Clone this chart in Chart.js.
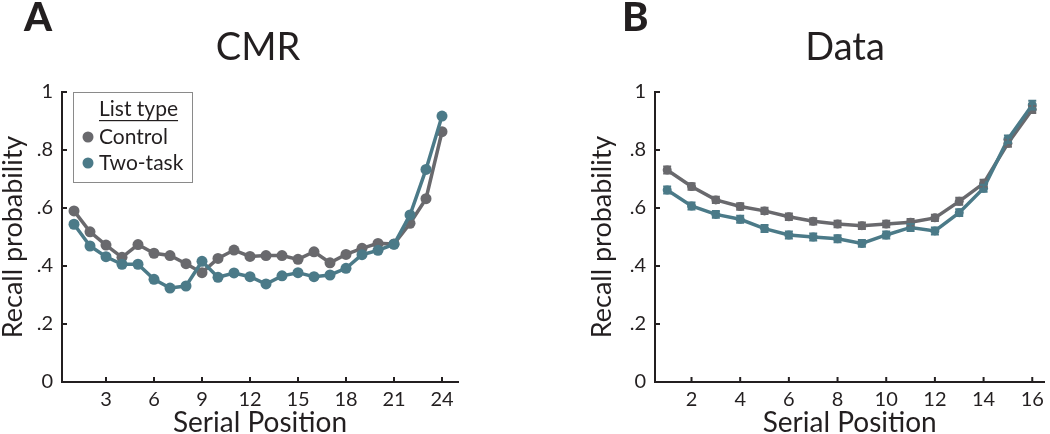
<!DOCTYPE html>
<html>
<head>
<meta charset="utf-8">
<script src="https://cdn.jsdelivr.net/npm/chart.js@4.4.1/dist/chart.umd.min.js"></script>
<style>
  html, body { margin: 0; padding: 0; background: #fff; }
  #wrap { position: relative; width: 1050px; height: 434px; }
  canvas { position: absolute; top: 0; }
</style>
</head>
<body>
<div id="wrap">
  <canvas id="cmrChart" width="525" height="434" style="left:0"></canvas>
  <canvas id="dataChart" width="525" height="434" style="left:525px"></canvas>
</div>
<script>
// ---- data ----
const seriesNames = ['Control', 'Two-task'];
const legendTitle = 'List type';

const cmrPositions = [1, 2, 3, 4, 5, 6, 7, 8, 9, 10, 11, 12, 13, 14, 15, 16, 17, 18, 19, 20, 21, 22, 23, 24];
const cmrControl = [0.59, 0.518, 0.472, 0.43, 0.474, 0.444, 0.436, 0.408, 0.377, 0.426, 0.455, 0.433,
                    0.436, 0.436, 0.423, 0.449, 0.411, 0.44, 0.461, 0.478, 0.476, 0.547, 0.632, 0.863];
const cmrTwoTask = [0.544, 0.469, 0.432, 0.406, 0.406, 0.354, 0.324, 0.331, 0.416, 0.361, 0.376, 0.363,
                    0.338, 0.366, 0.377, 0.363, 0.369, 0.392, 0.439, 0.454, 0.475, 0.576, 0.733, 0.917];
const cmrXTicks = [3, 6, 9, 12, 15, 18, 21, 24];

const dataPositions = [1, 2, 3, 4, 5, 6, 7, 8, 9, 10, 11, 12, 13, 14, 15, 16];
const dataControl = [0.731, 0.674, 0.628, 0.605, 0.59, 0.57, 0.554, 0.545, 0.539, 0.545, 0.551, 0.566,
                     0.623, 0.685, 0.823, 0.94];
const dataTwoTask = [0.662, 0.607, 0.578, 0.561, 0.529, 0.507, 0.5, 0.494, 0.478, 0.507, 0.533, 0.521,
                     0.584, 0.668, 0.837, 0.955];
const dataControlErr = [0.012, 0.011, 0.011, 0.011, 0.011, 0.011, 0.011, 0.011, 0.011, 0.011, 0.011, 0.011,
                        0.012, 0.012, 0.012, 0.012];
const dataTwoTaskErr = [0.012, 0.012, 0.012, 0.012, 0.012, 0.012, 0.012, 0.012, 0.012, 0.012, 0.012, 0.012,
                        0.012, 0.012, 0.013, 0.015];
const dataXTicks = [2, 4, 6, 8, 10, 12, 14, 16];

const yTickValues = [0, 0.2, 0.4, 0.6, 0.8, 1];
const yTickLabels = ['0', '.2', '.4', '.6', '.8', '1'];

// ---- styles ----
const GRAY = '#69696d';
const TEAL = '#4b7a88';
const INK = '#231f20';
const FONT = 'Lato';
Chart.defaults.font.family = FONT;
Chart.defaults.color = INK;

const toPoints = (xs, ys) => xs.map((x, i) => ({ x, y: ys[i] }));

// titles, panel letters and inward tick marks
const panelDecor = {
  id: 'panelDecor',
  afterDraw(chart, args, o) {
    const { ctx, chartArea: a, scales: { x, y } } = chart;
    ctx.save();
    ctx.strokeStyle = INK;
    ctx.lineWidth = 2;
    x.ticks.forEach(t => {
      const px = x.getPixelForValue(t.value);
      ctx.beginPath(); ctx.moveTo(px, a.bottom); ctx.lineTo(px, a.bottom - 5); ctx.stroke();
    });
    y.ticks.forEach(t => {
      if (t.value === 0) return;
      const py = y.getPixelForValue(t.value);
      ctx.beginPath(); ctx.moveTo(a.left, py); ctx.lineTo(a.left + 5, py); ctx.stroke();
    });

    ctx.fillStyle = INK;
    ctx.font = `900 40px ${FONT}`;
    ctx.textAlign = 'left';
    ctx.textBaseline = 'alphabetic';
    ctx.fillText(o.letter, o.letterX, 31);

    ctx.font = `38px ${FONT}`;
    ctx.textAlign = 'center';
    ctx.textBaseline = 'middle';
    ctx.fillText(o.title, o.titleX, 48);
    ctx.restore();
  }
};

// boxed legend with underlined heading
const boxLegend = {
  id: 'boxLegend',
  afterDraw(chart, args, o) {
    if (!o.show) return;
    const ctx = chart.ctx;
    const bx = 73, by = 92, bw = 119, bh = 90;
    ctx.save();
    ctx.fillStyle = '#fff';
    ctx.fillRect(bx, by, bw, bh);
    ctx.strokeStyle = '#8a8a8a';
    ctx.lineWidth = 1;
    ctx.strokeRect(bx + 0.5, by + 0.5, bw, bh);

    ctx.fillStyle = INK;
    ctx.font = `21px ${FONT}`;
    ctx.textAlign = 'left';
    ctx.textBaseline = 'middle';
    ctx.fillText(legendTitle, 99, 109);
    const w = ctx.measureText(legendTitle).width;
    ctx.fillRect(99, 120, w, 1.2);

    const order = [...chart.data.datasets].sort((p, q) => q.order - p.order);
    order.forEach((ds, i) => {
      const cy = 137 + i * 26;
      ctx.fillStyle = ds.borderColor;
      ctx.beginPath(); ctx.arc(88, cy, 5.5, 0, Math.PI * 2); ctx.fill();
      ctx.fillStyle = INK;
      ctx.fillText(ds.label, 99, cy);
    });
    ctx.restore();
  }
};

// small vertical error bars with caps
const errorBars = {
  id: 'errorBars',
  afterDatasetsDraw(chart) {
    const { ctx, scales: { x, y } } = chart;
    ctx.save();
    chart.data.datasets.forEach(ds => {
      if (!ds.errors) return;
      ctx.strokeStyle = ds.borderColor;
      ctx.lineWidth = 2;
      ds.data.forEach((p, i) => {
        const px = x.getPixelForValue(p.x);
        const top = y.getPixelForValue(p.y + ds.errors[i]);
        const bot = y.getPixelForValue(p.y - ds.errors[i]);
        ctx.beginPath();
        ctx.moveTo(px, top); ctx.lineTo(px, bot);
        ctx.moveTo(px - 4, top); ctx.lineTo(px + 4, top);
        ctx.moveTo(px - 4, bot); ctx.lineTo(px + 4, bot);
        ctx.stroke();
      });
    });
    ctx.restore();
  }
};

function makeChart(id, cfg) {
  const datasets = [
    {
      label: seriesNames[0], data: toPoints(cfg.positions, cfg.control), errors: cfg.controlErr,
      borderColor: GRAY, backgroundColor: GRAY, pointBackgroundColor: GRAY, pointBorderWidth: 0,
      borderWidth: 3.5, pointRadius: cfg.pointRadius, tension: 0, order: 2, clip: false
    },
    {
      label: seriesNames[1], data: toPoints(cfg.positions, cfg.twoTask), errors: cfg.twoTaskErr,
      borderColor: TEAL, backgroundColor: TEAL, pointBackgroundColor: TEAL, pointBorderWidth: 0,
      borderWidth: 3.5, pointRadius: cfg.pointRadius, tension: 0, order: 1, clip: false
    }
  ];

  return new Chart(document.getElementById(id), {
    type: 'line',
    data: { datasets },
    plugins: [panelDecor, boxLegend, errorBars],
    options: {
      responsive: false,
      animation: false,
      events: [],
      layout: { padding: { left: cfg.padLeft, top: 92, right: cfg.padRight, bottom: 0 } },
      plugins: {
        legend: { display: false },
        tooltip: { enabled: false },
        panelDecor: { letter: cfg.letter, letterX: cfg.letterX, title: cfg.title, titleX: cfg.titleX },
        boxLegend: { show: cfg.legend }
      },
      scales: {
        x: {
          type: 'linear',
          min: cfg.xMin,
          max: cfg.xMax,
          afterBuildTicks: s => { s.ticks = cfg.xTicks.map(v => ({ value: v })); },
          afterFit: s => { s.height = 52; },
          grid: { display: false, drawTicks: false },
          border: { display: true, color: INK, width: 2 },
          ticks: { color: INK, padding: 6, font: { size: 20 }, maxRotation: 0, autoSkip: false },
          title: {
            display: true, text: 'Serial Position', color: INK,
            font: { size: 28, lineHeight: 0.8 }, padding: 0
          }
        },
        y: {
          min: 0,
          max: 1,
          afterBuildTicks: s => { s.ticks = yTickValues.map(v => ({ value: v })); },
          afterFit: s => { s.width = cfg.yWidth; },
          grid: { display: false, drawTicks: false },
          border: { display: true, color: INK, width: 2 },
          ticks: {
            color: INK, padding: 9, font: { size: 20 },
            callback: v => yTickLabels[yTickValues.indexOf(v)]
          },
          title: {
            display: true, text: 'Recall probability', color: INK,
            font: { size: 27, lineHeight: 0.96 }, padding: 0
          }
        }
      }
    }
  });
}

makeChart('cmrChart', {
  positions: cmrPositions, control: cmrControl, twoTask: cmrTwoTask,
  xMin: 0.25, xMax: 25, xTicks: cmrXTicks, pointRadius: 5.5,
  padLeft: 0, padRight: 67, yWidth: 62,
  letter: 'A', letterX: 24, title: 'CMR', titleX: 258, legend: true
});

makeChart('dataChart', {
  positions: dataPositions, control: dataControl, twoTask: dataTwoTask,
  controlErr: dataControlErr, twoTaskErr: dataTwoTaskErr,
  xMin: 0.5, xMax: 16.5, xTicks: dataXTicks, pointRadius: 4.5,
  padLeft: 64, padRight: 2, yWidth: 66,
  letter: 'B', letterX: 97, title: 'Data', titleX: 320, legend: false
});
</script>
</body>
</html>
